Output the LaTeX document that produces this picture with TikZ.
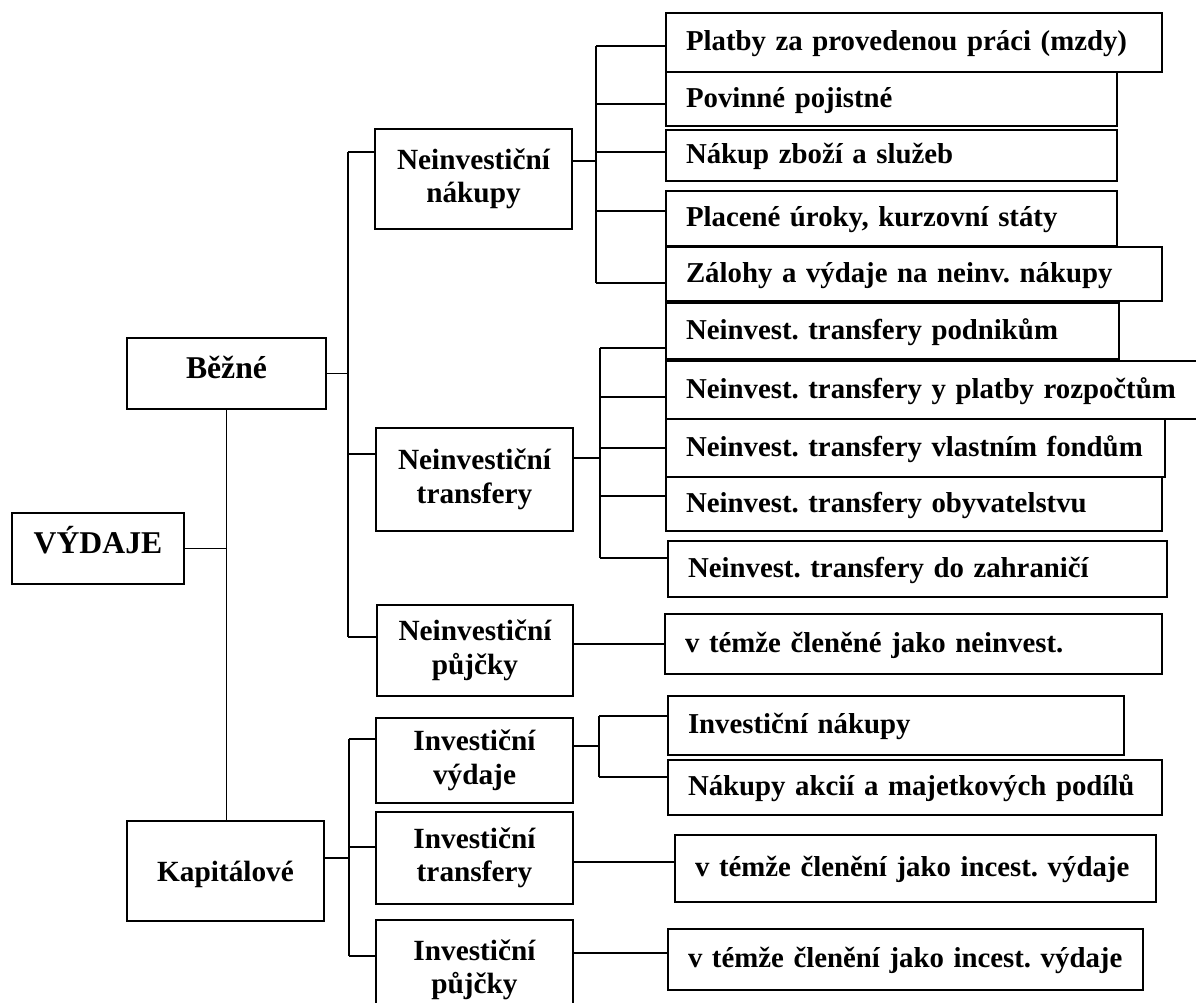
\documentclass[tikz,border=0pt]{standalone}
\usepackage{fontspec}
\setmainfont{Liberation Serif}
\begin{document}
\begin{tikzpicture}[x=1pt,y=-1pt,
  box/.style={draw, line width=2pt, inner sep=0pt, anchor=north west,
              font=\fontsize{29.3}{33.5}\selectfont\bfseries\frenchspacing},
  mid/.style={box, align=center},
  leaf/.style={box, align=left, inner xsep=20pt, inner ysep=0pt,
               font=\fontsize{28.8}{33}\selectfont\bfseries\frenchspacing,
               text height=23.2pt, text depth=6.4pt},
  wire/.style={line width=1.7pt}]

\clip (0,0) rectangle (1196,1003);

% root and the two main groups
\node[box, minimum width=172, minimum height=71,
      font=\fontsize{31.7}{36}\selectfont\bfseries,
      text height=23.8pt, text depth=14.8pt] (vydaje) at (11,512) {VÝDAJE};
\node[box, minimum width=199, minimum height=71,
      font=\fontsize{31.7}{36}\selectfont\bfseries,
      text height=23.8pt, text depth=13.4pt] (bezne) at (126,337) {Běžné};
\node[box, minimum width=197, minimum height=100,
      text height=26.4pt, text depth=6.4pt] (kap) at (126,820) {Kapitálové};

% second level
\node[mid, minimum width=197, minimum height=100] (nn) at (374,128) {Neinvestiční\\nákupy};
\node[mid, minimum width=197, minimum height=103] (nt) at (375,427) {Neinvestiční\\transfery};
\node[mid, minimum width=196, minimum height=91]  (np) at (376,604) {Neinvestiční\\půjčky};
\node[mid, minimum width=197, minimum height=85]  (iv) at (375,717) {Investiční\\výdaje};
\node[mid, minimum width=197, minimum height=92]  (it) at (375,811) {Investiční\\transfery};
\node[mid, minimum width=197, minimum height=100] (ip) at (375,919) {Investiční\\půjčky};

% third level
\node[leaf, text width=456, minimum height=59] (l1) at (665,12)  {\mbox{Platby za provedenou práci (mzdy)}};
\node[leaf, text width=411, minimum height=54] (l2) at (665,71)  {\mbox{Povinné pojistné}};
\node[leaf, text width=411, minimum height=51] (l3) at (665,129) {\mbox{Nákup zboží a služeb}};
\node[leaf, text width=411, minimum height=55] (l4) at (665,190) {\mbox{Placené úroky, kurzovní státy}};
\node[leaf, text width=456, minimum height=54] (l5) at (665,246) {\mbox{Zálohy a výdaje na neinv. nákupy}};

\node[leaf, text width=413, minimum height=56] (t1) at (665,302) {\mbox{Neinvest. transfery podnikům}};
\node[leaf, text width=505, minimum height=58] (t2) at (665,360) {\mbox{Neinvest. transfery y platby rozpočtům}};
\node[leaf, text width=459, minimum height=58] (t3) at (665,418) {\mbox{Neinvest. transfery vlastním fondům}};
\node[leaf, text width=456, minimum height=54] (t4) at (665,476) {\mbox{Neinvest. transfery obyvatelstvu}};
\node[leaf, text width=459, minimum height=56] (t5) at (667,540) {\mbox{Neinvest. transfery do zahraničí}};

\node[leaf, text width=457, minimum height=60] (pn) at (664,613) {\mbox{v témže členěné jako neinvest.}};

\node[leaf, text width=416, minimum height=59] (i1) at (667,695) {\mbox{Investiční nákupy}};
\node[leaf, text width=454, minimum height=55] (i2) at (667,759) {\mbox{Nákupy akcií a majetkových podílů}};
\node[leaf, text width=441, minimum height=67] (ti) at (674,834) {\mbox{v témže členění jako incest. výdaje}};
\node[leaf, text width=435, minimum height=61] (pi) at (667,928) {\mbox{v témže členění jako incest. výdaje}};

% bus lines
\coordinate (b1t) at (348,152); \coordinate (b1b) at (348,637);
\coordinate (b2t) at (596,46);  \coordinate (b2b) at (596,283);
\coordinate (b3t) at (600,348); \coordinate (b3b) at (600,558);
\coordinate (b4t) at (349,739); \coordinate (b4b) at (349,956);
\coordinate (b5t) at (599,716); \coordinate (b5b) at (599,777);

% root trunk
\draw[wire] (vydaje.east) -- (vydaje.east -| bezne.south);
\draw[wire] (bezne.south) -- (bezne.south |- kap.north);

% current expenditure
\draw[wire] (bezne.east) -- (bezne.east -| b1t);
\draw[wire] (b1t) -- (b1b);
\draw[wire] (b1t) -- (b1t -| nn.west);
\draw[wire] (b1t |- 0,454) -- (nt.west |- 0,454);
\draw[wire] (b1b) -- (b1b -| np.west);

\draw[wire] (nn.east |- 0,161) -- (b2t |- 0,161);
\draw[wire] (b2t) -- (b2b);
\draw[wire] (b2t) -- (b2t -| l1.west);
\draw[wire] (b2t |- 0,104) -- (l2.west |- 0,104);
\draw[wire] (b2t |- 0,152) -- (l3.west |- 0,152);
\draw[wire] (b2t |- 0,211) -- (l4.west |- 0,211);
\draw[wire] (b2b) -- (b2b -| l5.west);

\draw[wire] (nt.east |- 0,458) -- (b3t |- 0,458);
\draw[wire] (b3t) -- (b3b);
\draw[wire] (b3t) -- (b3t -| t1.west);
\draw[wire] (b3t |- 0,397) -- (t2.west |- 0,397);
\draw[wire] (b3t |- 0,448) -- (t3.west |- 0,448);
\draw[wire] (b3t |- 0,496) -- (t4.west |- 0,496);
\draw[wire] (b3b) -- (b3b -| t5.west);

\draw[wire] (np.east |- 0,644) -- (pn.west |- 0,644);

% capital expenditure
\draw[wire] (kap.east |- 0,858) -- (b4t |- 0,858);
\draw[wire] (b4t) -- (b4b);
\draw[wire] (b4t) -- (b4t -| iv.west);
\draw[wire] (b4t |- 0,847) -- (it.west |- 0,847);
\draw[wire] (b4b) -- (b4b -| ip.west);

\draw[wire] (iv.east |- 0,746) -- (b5t |- 0,746);
\draw[wire] (b5t) -- (b5b);
\draw[wire] (b5t) -- (b5t -| i1.west);
\draw[wire] (b5b) -- (b5b -| i2.west);

\draw[wire] (it.east |- 0,862) -- (ti.west |- 0,862);
\draw[wire] (ip.east |- 0,953) -- (pi.west |- 0,953);
\end{tikzpicture}
\end{document}
